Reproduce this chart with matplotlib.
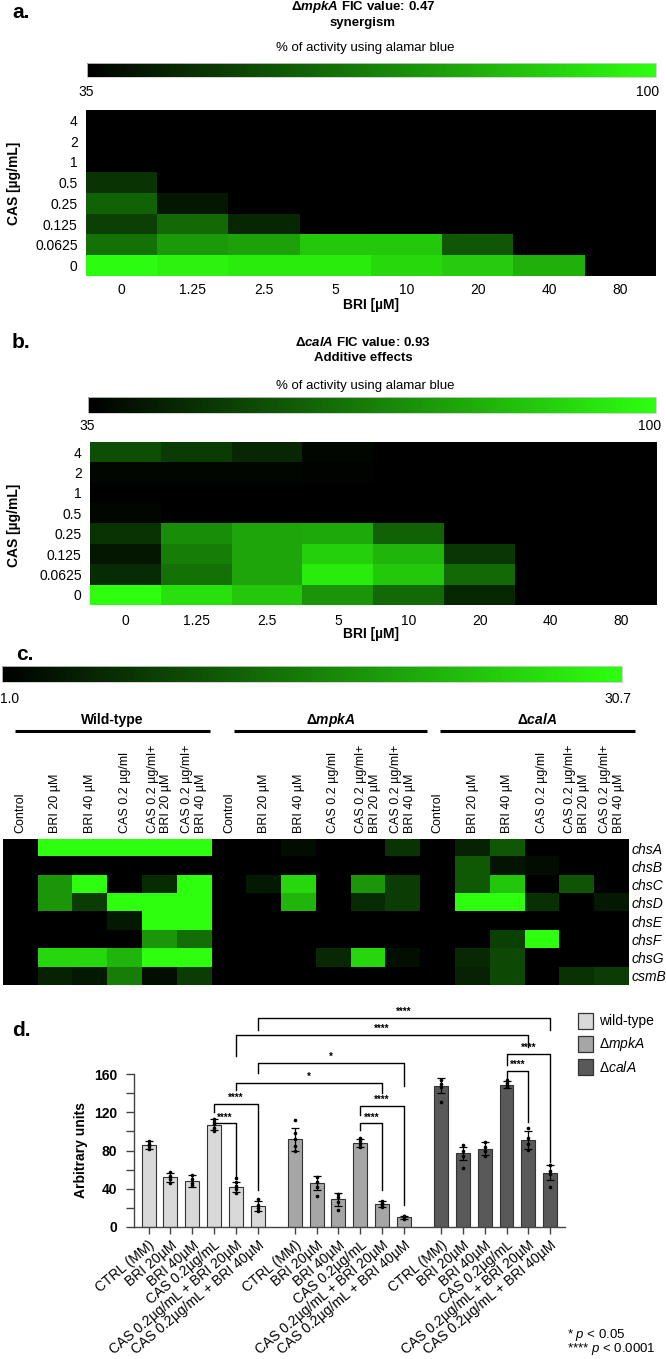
import numpy as np
import matplotlib
matplotlib.use('Agg')
import matplotlib.pyplot as plt
from matplotlib import cm
from matplotlib.colors import LinearSegmentedColormap, Normalize
from matplotlib.patches import Rectangle

plt.rcParams['font.family'] = ['Liberation Sans', 'DejaVu Sans']
plt.rcParams['mathtext.fontset'] = 'custom'
plt.rcParams['mathtext.rm'] = 'Liberation Sans'
plt.rcParams['mathtext.it'] = 'Liberation Sans:italic'
plt.rcParams['mathtext.bf'] = 'Liberation Sans:bold'
plt.rcParams['mathtext.bfit'] = 'Liberation Sans:italic:bold'

# ---- data: panels a / b (checkerboard, % activity) ----
bri_labels = ['0', '1.25', '2.5', '5', '10', '20', '40', '80']
cas_labels = ['4', '2', '1', '0.5', '0.25', '0.125', '0.0625', '0']

mpka_fic = [
    [35, 35, 35, 35, 35, 35, 35, 35],
    [35, 35, 35, 35, 35, 35, 35, 35],
    [35, 35, 35, 35, 35, 35, 35, 35],
    [48, 35, 35, 35, 35, 35, 35, 35],
    [60, 41, 35, 35, 35, 35, 35, 35],
    [51, 62, 45, 35, 35, 35, 35, 35],
    [64, 74, 76, 86, 86, 57, 35, 35],
    [99, 97, 95, 95, 90, 87, 80, 35],
]
cala_fic = [
    [55, 50, 45, 37, 35, 35, 35, 35],
    [37, 37, 37, 36, 35, 35, 35, 35],
    [35, 35, 35, 35, 35, 35, 35, 35],
    [37, 35, 35, 35, 35, 35, 35, 35],
    [48, 71, 77, 78, 60, 35, 35, 35],
    [41, 67, 77, 88, 81, 49, 35, 35],
    [46, 64, 77, 95, 86, 62, 35, 35],
    [100, 92, 86, 73, 62, 45, 35, 35],
]

# ---- data: panel c (fold change) ----
cond_labels = ['Control', 'BRI 20 µM', 'BRI 40 µM', 'CAS 0.2 µg/ml',
               'CAS 0.2 µg/ml+\nBRI 20 µM', 'CAS 0.2 µg/ml+\nBRI 40 µM'] * 3
genes = ['chsA', 'chsB', 'chsC', 'chsD', 'chsE', 'chsF', 'chsG', 'csmB']
fold = [
    [1, 30.7, 30.7, 30.7, 30.7, 30.7,  1, 1, 2.5, 1, 1, 7,      1, 5, 11, 1, 1, 1],
    [1, 1, 1, 1, 1, 1,                 1, 1, 1, 1, 1, 1,        1, 11.5, 3.4, 2.4, 1, 1],
    [1, 18.5, 30.7, 1, 6.3, 30.7,      1, 4, 26, 1, 18.5, 8,    1, 11.5, 24, 1, 10.8, 1],
    [1, 18.5, 8, 30.7, 30.7, 30.7,     1, 1, 22, 1, 6, 8,       1, 30.7, 30.7, 6.7, 1, 4],
    [1, 1, 1, 4, 30.7, 30.7,           1, 1, 1, 1, 1, 1,        1, 1, 1, 1, 1, 1],
    [1, 1, 1, 1, 18.5, 13.8,           1, 1, 1, 1, 1, 1,        1, 1, 8.5, 30.7, 1, 1],
    [1, 26, 26, 22, 30.7, 30.7,        1, 1, 1, 5.7, 26, 2.8,   1, 5.7, 9.7, 1, 1, 1],
    [1, 5, 4, 15.6, 2.8, 8,            1, 1, 1, 1, 1, 1,        1, 5, 9.7, 1, 6.9, 8],
]

# ---- data: panel d (bars) ----
bar_labels = ['CTRL (MM)', 'BRI 20µM', 'BRI 40µM', 'CAS 0.2µg/mL',
              'CAS 0.2µg/mL + BRI 20µM', 'CAS 0.2µg/mL + BRI 40µM'] * 3
wt_means = [86, 52, 48, 107, 42, 22]
wt_sd = [4, 5, 6, 6, 5, 5]
mpka_means = [92, 46, 29, 88, 24, 10]
mpka_sd = [12, 7, 7, 4, 3, 2]
cala_means = [148, 77, 82, 149, 91, 57]
cala_sd = [8, 7, 7, 4, 9, 8]
wt_reps = [[82, 85, 87, 90], [46, 50, 53, 58], [44, 46, 50, 54],
           [100, 104, 108, 110, 113], [36, 40, 43, 47, 51], [17, 20, 23, 29]]
mpka_reps = [[80, 85, 92, 98, 112], [32, 42, 47, 52], [18, 26, 31, 35],
             [84, 87, 90, 93], [21, 23, 25, 27], [8, 10, 11, 12]]
cala_reps = [[131, 146, 150, 154], [62, 74, 79, 86], [74, 80, 84, 89],
             [146, 149, 151, 154], [81, 87, 93, 104], [42, 55, 59, 65]]
# (bar i, bar j, top, left leg end, right leg end, label)
brackets = [
    (3, 4, 108.5, 103, 52, '****'),
    (3, 5, 128.7, 120.6, 38.7, '****'),
    (9, 10, 108.5, 101, 39, '****'),
    (9, 11, 126.6, 117, 23, '****'),
    (15, 16, 163.5, 156, 110, '****'),
    (15, 17, 181, 169, 68, '****'),
    (4, 10, 150.6, 143, 140, '*'),
    (5, 11, 172, 161, 147, '*'),
    (4, 16, 201, 179, 188, '****'),
    (5, 17, 218.6, 206, 206, '****'),
]
group_names = ['wild-type', r'Δ$\mathit{mpkA}$', r'Δ$\mathit{calA}$']
group_colors = ['#d9d9d9', '#a6a6a6', '#595959']

W, H = 666, 1359
fig = plt.figure(figsize=(W / 100, H / 100), dpi=100)


def px_axes(x0, y0, x1, y1):
    return fig.add_axes([x0 / W, 1 - y1 / H, (x1 - x0) / W, (y1 - y0) / H])


green = LinearSegmentedColormap.from_list('kg', ['#000000', '#2dff0f'])

# overlay in pixel coordinates for free text
ann = fig.add_axes([0, 0, 1, 1], zorder=-1)
ann.set_xlim(0, W)
ann.set_ylim(H, 0)
ann.axis('off')


def colorbar(x0, y0, x1, y1, vmin, vmax):
    cax = px_axes(x0, y0, x1, y1)
    cb = fig.colorbar(cm.ScalarMappable(Normalize(vmin, vmax), green), cax=cax,
                      orientation='horizontal')
    cb.set_ticks([])
    cb.outline.set_edgecolor('#cccccc')
    cb.outline.set_linewidth(0.6)
    return cb


def fic_heatmap(vals, box, tick_y, xlabel_y, ylab_y):
    ax = px_axes(*box)
    ax.imshow(np.array(vals), cmap=green, vmin=35, vmax=100, aspect='auto',
              interpolation='nearest')
    ax.set_xticks(range(len(bri_labels)))
    ax.set_xticklabels(bri_labels)
    ax.set_yticks(range(len(cas_labels)))
    ax.set_yticklabels(cas_labels)
    ax.tick_params(axis='x', length=0, labelsize=10, pad=(tick_y - box[3] - 6) * 0.72)
    ax.tick_params(axis='y', length=0, labelsize=10, pad=6)
    for s in ax.spines.values():
        s.set_visible(False)
    ann.text(371, xlabel_y, 'BRI [µM]', ha='center', va='center', fontsize=10,
             fontweight='bold')
    ann.text(14, ylab_y, 'CAS [µg/mL]', ha='center', va='center', rotation=90,
             fontsize=10, fontweight='bold')
    return ax


# ---------- panel a ----------
ann.text(21, 12, 'a.', fontsize=15, fontweight='bold', ha='center', va='center')
ann.text(363, 7, r'Δ$\mathbfit{mpkA}$ FIC value: 0.47', fontsize=9.5,
         fontweight='bold', ha='center', va='center')
ann.text(363, 23, 'synergism', fontsize=9.5, fontweight='bold', ha='center', va='center')
ann.text(365, 48, '% of activity using alamar blue', fontsize=9.5, ha='center', va='center')
colorbar(87, 63, 656, 77, 35, 100)
ann.text(86, 92, '35', fontsize=10, ha='center', va='center')
ann.text(648, 92, '100', fontsize=10, ha='center', va='center')
fic_heatmap(mpka_fic, (86, 110, 656, 276), 289, 305, 183)

# ---------- panel b ----------
ann.text(21, 342, 'b.', fontsize=15, fontweight='bold', ha='center', va='center')
ann.text(363, 342, r'Δ$\mathbfit{calA}$ FIC value: 0.93', fontsize=9.5,
         fontweight='bold', ha='center', va='center')
ann.text(363, 358, 'Additive effects', fontsize=9.5, fontweight='bold',
         ha='center', va='center')
ann.text(365, 386, '% of activity using alamar blue', fontsize=9.5, ha='center', va='center')
colorbar(88, 397, 656, 413, 35, 100)
ann.text(87, 426, '35', fontsize=10, ha='center', va='center')
ann.text(650, 426, '100', fontsize=10, ha='center', va='center')
fic_heatmap(cala_fic, (90, 442, 657, 605), 620, 634, 525)

# ---------- panel c ----------
ann.text(25, 655, 'c.', fontsize=15, fontweight='bold', ha='center', va='center')
colorbar(2, 666, 622, 682, 1.0, 30.7)
ann.text(0, 699, '1.0', fontsize=10, ha='left', va='center')
ann.text(618, 699, '30.7', fontsize=10, ha='center', va='center')
group_spans = [(15, 210), (234, 427), (440, 635)]
group_titles = ['Wild-type', r'Δ$\mathbfit{mpkA}$', r'Δ$\mathbfit{calA}$']
for (x0, x1), t in zip(group_spans, group_titles):
    ann.text((x0 + x1) / 2, 720, t, fontsize=10, fontweight='bold', ha='center', va='center')
    ann.plot([x0, x1], [731, 731], color='black', lw=2.2, solid_capstyle='butt')

axc = px_axes(3, 839, 629, 985)
axc.imshow(np.array(fold), cmap=green, vmin=1.0, vmax=30.7, aspect='auto',
           interpolation='nearest')
axc.xaxis.tick_top()
axc.set_xticks(range(len(cond_labels)))
axc.set_xticklabels(cond_labels, rotation=90, ha='center', va='bottom',
                    multialignment='left', fontsize=9)
axc.yaxis.tick_right()
axc.set_yticks(range(len(genes)))
axc.set_yticklabels(genes, fontsize=10, style='italic')
axc.tick_params(axis='x', length=0, pad=4)
axc.tick_params(axis='y', length=0, pad=2)
for s in axc.spines.values():
    s.set_visible(False)

# ---------- panel d ----------
ann.text(21, 1030, 'd.', fontsize=15, fontweight='bold', ha='center', va='center')
axd = px_axes(134, 1010, 565, 1227)
means = wt_means + mpka_means + cala_means
sds = wt_sd + mpka_sd + cala_sd
reps = wt_reps + mpka_reps + cala_reps
pos = []
for g in range(3):
    pos += [g * 6.7 + k for k in range(6)]
pos = np.array(pos)
colors = [c for c in group_colors for _ in range(6)]
axd.bar(pos, means, width=0.64, color=colors, edgecolor='#333333', linewidth=0.8, zorder=2)
axd.errorbar(pos, means, yerr=sds, fmt='none', ecolor='black', elinewidth=0.9,
             capsize=3, capthick=0.9, zorder=3)
for x, r in zip(pos, reps):
    axd.plot([x] * len(r), r, 'o', ms=1.6, color='black', zorder=4)

for i, j, top, yl, yr, lab in brackets:
    xi, xj = pos[i], pos[j]
    axd.plot([xi, xi, xj, xj], [yl, top, top, yr], color='black', lw=1.0,
             clip_on=False, zorder=5)
    axd.text((xi + xj) / 2, top + 0.8, lab, ha='center', va='bottom', fontsize=7,
             fontweight='bold', clip_on=False)

axd.set_xlim(-0.67, 19.08)
axd.set_ylim(0, 227)
axd.spines['top'].set_visible(False)
axd.spines['right'].set_visible(False)
axd.spines['left'].set_bounds(0, 160)
for s in ('left', 'bottom'):
    axd.spines[s].set_color('#444444')
    axd.spines[s].set_linewidth(1.0)
axd.set_yticks(range(0, 161, 20))
axd.set_yticklabels([str(v) if v % 40 == 0 else '' for v in range(0, 161, 20)],
                    fontweight='bold', fontsize=10)
axd.set_xticks(pos)
axd.set_xticklabels(bar_labels, rotation=40, ha='right', rotation_mode='anchor',
                    fontsize=10)
axd.tick_params(axis='y', length=6, width=1.0, color='#444444', pad=6)
axd.tick_params(axis='x', length=5, width=1.0, color='#444444', pad=3)
ann.text(81, 1150, 'Arbitrary units', rotation=90, ha='center', va='center',
         fontsize=10, fontweight='bold')

# legend
for k, (name, col) in enumerate(zip(group_names, group_colors)):
    yc = 1021 + k * 23
    ann.add_patch(Rectangle((578, yc - 8), 15, 16, facecolor=col,
                            edgecolor='#333333', lw=0.9))
    ann.text(599, yc, name, fontsize=10, ha='left', va='center')

ann.text(567, 1335, r'* $\mathit{p}$ < 0.05', fontsize=9.5, ha='left', va='center')
ann.text(567, 1349, r'**** $\mathit{p}$ < 0.0001', fontsize=9.5, ha='left', va='center')

fig.savefig('out.png', dpi=100)
